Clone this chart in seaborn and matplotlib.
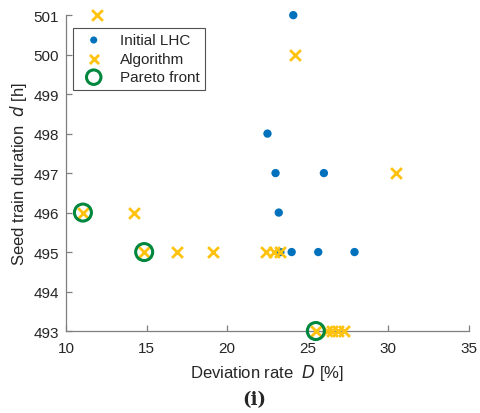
import matplotlib
matplotlib.use("Agg")
import matplotlib.pyplot as plt
import seaborn as sns
import pandas as pd

sns.set_theme(style="white")
plt.rcParams["font.family"] = ["Liberation Sans", "DejaVu Sans"]

# Initial Latin hypercube samples
lhc_D = [24.1, 22.5, 23.0, 26.0, 23.2, 23.3, 24.0, 25.65, 27.9]
lhc_d = [501, 498, 497, 497, 496, 495, 495, 495, 495]

# Points proposed by the optimisation algorithm
alg_D = [11.9, 24.2, 30.5, 11.05, 14.2, 14.85, 16.9, 19.1, 22.4, 22.9, 23.3,
         25.5, 26.2, 26.5, 26.85, 27.25]
alg_d = [501, 500, 497, 496, 496, 495, 495, 495, 495, 495, 495,
         493, 493, 493, 493, 493]

# Non-dominated solutions
par_D = [11.05, 14.85, 25.5]
par_d = [496, 495, 493]

df_lhc = pd.DataFrame({"D": lhc_D, "d": lhc_d})
df_alg = pd.DataFrame({"D": alg_D, "d": alg_d})
df_par = pd.DataFrame({"D": par_D, "d": par_d})

blue = "#0072BD"
yellow = "#FFC20E"
green = "#00873E"

fig = plt.figure(figsize=(4.8, 4.14), dpi=100)
ax = fig.add_axes([0.1375, 0.198, 0.8395, 0.763])

sns.scatterplot(data=df_lhc, x="D", y="d", ax=ax, color=blue, marker="o",
                s=36, edgecolor="none", label="Initial LHC", zorder=3,
                clip_on=False)
sns.scatterplot(data=df_alg, x="D", y="d", ax=ax, color=yellow, marker="x",
                s=60, linewidth=2.0, label="Algorithm", zorder=4,
                clip_on=False)
sns.scatterplot(data=df_par, x="D", y="d", ax=ax, facecolor="none",
                edgecolor=green, marker="o", s=150, linewidth=2.2,
                label="Pareto front", zorder=5, clip_on=False)

ax.set_xlim(10, 35)
ax.set_ylim(493, 501)
ax.set_xticks([10, 15, 20, 25, 30, 35])
ax.set_yticks(range(493, 502))

for side in ["top", "right"]:
    ax.spines[side].set_visible(False)
for side in ["left", "bottom"]:
    ax.spines[side].set_color("#7f7f7f")
    ax.spines[side].set_linewidth(0.9)

ax.tick_params(axis="both", direction="in", length=4, width=0.9,
               color="#7f7f7f", labelsize=11, labelcolor="#262626",
               left=True, bottom=True)
ax.tick_params(axis="x", pad=7)
ax.tick_params(axis="y", pad=5)

ax.set_xlabel("Deviation rate  $\\it{D}$ [%]", fontsize=12, color="#262626",
              labelpad=5)
ax.set_ylabel("Seed train duration  $\\it{d}$ [h]", fontsize=12,
              color="#262626", labelpad=3)

leg = ax.legend(loc="upper left", bbox_to_anchor=(0.01, 0.97), fontsize=11,
                frameon=True, fancybox=False, edgecolor="#262626",
                borderpad=0.35, handletextpad=0.7, labelspacing=0.3,
                borderaxespad=0.2, markerscale=0.85)
leg.get_frame().set_linewidth(0.8)

fig.text(0.53, 0.033, "(i)", ha="center", va="center", fontsize=13,
         fontweight="bold", family=["DejaVu Serif"])

fig.savefig("out.png", dpi=100)
